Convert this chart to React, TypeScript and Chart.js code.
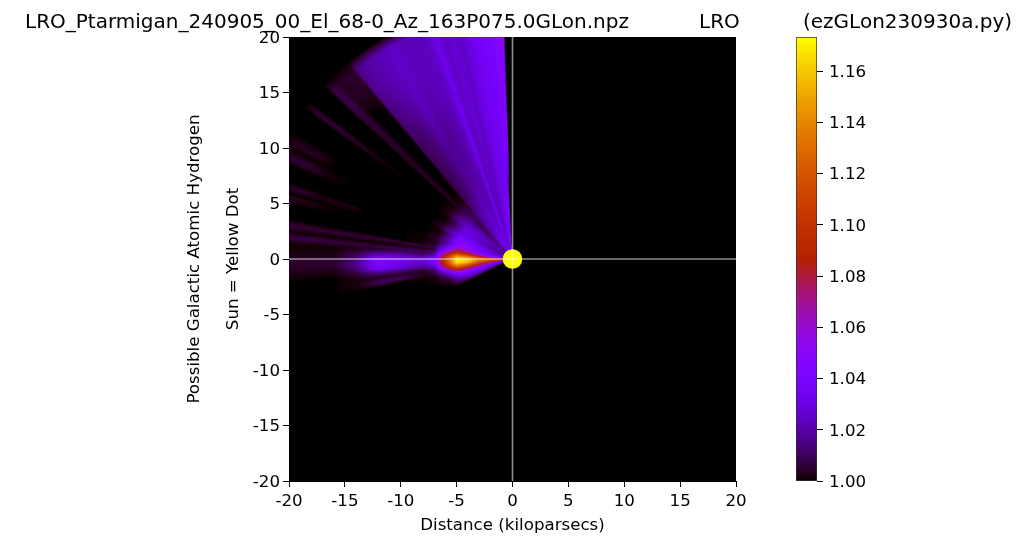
import React, { useEffect, useRef } from "react";
import { Chart, registerables } from "chart.js";

Chart.register(...registerables);

const FONT = "'DejaVu Sans'";
const titleLeft = "LRO_Ptarmigan_240905_00_El_68-0_Az_163P075.0GLon.npz";
const titleMid = "LRO";
const titleRight = "(ezGLon230930a.py)";
const xAxisTitle = "Distance (kiloparsecs)";
const yAxisTitle = ["Possible Galactic Atomic Hydrogen", "", "Sun = Yellow Dot"];
const axisTicks = [-20, -15, -10, -5, 0, 5, 10, 15, 20];
const barTicks = [1.0, 1.02, 1.04, 1.06, 1.08, 1.1, 1.12, 1.14, 1.16];
const barMin = 1.0;
const barMax = 1.1733;

// Radii (kpc) of the heat-map samples along each ray.
const rayRadii = [0, 1, 2, 3, 4, 5, 6, 7, 8, 10, 12, 14, 16, 18, 20, 22, 23];
// Direction of each ray (degrees counter-clockwise from +x).
const rayAngles = [
  91.9, 92.5, 94, 95, 98, 101, 103, 105, 107, 109, 111, 114, 117, 120, 122, 125, 127, 129.3,
  130, 132, 134, 135.5, 136.5, 137.5, 140, 142, 143, 144, 146, 150, 152, 153.5, 155.5, 157,
  159, 161, 162, 163.4, 164.5, 166, 168, 170, 171.5, 173, 174.5, 176, 178, 180, 182, 184, 186,
  188, 190, 192, 194, 196, 198, 200, 202, 204, 206, 207,
];
// Ratio above 1.00 in thousandths, one row per ray, one column per radius.
const rayExcess = [
  [0, 0, 0, 0, 0, 0, 0, 0, 0, 0, 0, 0, 0, 0, 0, 0, 0],
  [0, 0, 0, 0, 0, 0, 0, 6, 20, 38, 41, 42, 43, 45, 50, 48, 0],
  [0, 0, 12, 24, 34, 38, 38, 38, 38, 40, 41, 42, 43, 45, 48, 46, 0],
  [40, 40, 38, 37, 36, 36, 35, 35, 35, 36, 37, 38, 38, 39, 41, 40, 0],
  [38, 38, 36, 35, 34, 34, 33, 33, 33, 34, 34, 35, 35, 36, 37, 36, 0],
  [34, 36, 34, 32, 30, 30, 29, 29, 29, 29, 30, 31, 31, 31, 31, 30, 0],
  [26, 28, 26, 24, 22, 22, 22, 22, 22, 23, 24, 24, 24, 24, 24, 23, 0],
  [30, 32, 30, 28, 26, 26, 26, 26, 26, 26, 27, 27, 27, 27, 27, 26, 0],
  [24, 26, 24, 23, 22, 22, 22, 22, 22, 23, 23, 24, 24, 24, 24, 23, 0],
  [36, 38, 38, 36, 34, 34, 32, 32, 31, 32, 33, 33, 33, 33, 33, 31, 0],
  [26, 28, 27, 26, 24, 23, 22, 22, 22, 23, 23, 24, 24, 24, 24, 23, 0],
  [26, 30, 28, 26, 24, 22, 21, 20, 20, 19, 19, 20, 22, 23, 23, 22, 0],
  [28, 32, 30, 28, 26, 24, 21, 20, 18, 17, 17, 18, 21, 22, 23, 22, 0],
  [30, 34, 32, 29, 26, 24, 21, 18, 17, 17, 18, 21, 23, 24, 26, 24, 0],
  [24, 28, 26, 24, 22, 20, 17, 15, 14, 15, 16, 18, 20, 22, 23, 22, 0],
  [28, 30, 28, 25, 22, 20, 16, 13, 12, 11, 12, 13, 17, 19, 21, 20, 0],
  [22, 26, 24, 22, 19, 17, 13, 10, 9, 10, 11, 12, 15, 17, 19, 18, 0],
  [22, 28, 25, 21, 18, 15, 11, 9, 8, 8, 9, 11, 13, 15, 16, 15, 0],
  [14, 20, 16, 12, 9, 8, 5, 2, 1, 0, 0, 0, 0, 1, 3, 5, 0],
  [18, 26, 22, 16, 13, 12, 6, 1, 0, 0, 0, 0, 0, 0, 4, 5, 0],
  [6, 14, 8, 5, 4, 9, 9, 1, 0, 0, 0, 0, 0, 0, 3, 4, 0],
  [20, 26, 22, 17, 14, 14, 8, 3, 3, 3, 3, 4, 4, 5, 7, 6, 0],
  [6, 16, 12, 8, 10, 14, 9, 3, 3, 4, 4, 4, 5, 6, 9, 8, 0],
  [6, 14, 13, 15, 17, 16, 9, 1, 0, 0, 0, 0, 0, 0, 0, 0, 0],
  [18, 28, 26, 24, 22, 19, 12, 2, 0, 0, 0, 0, 0, 0, 0, 0, 0],
  [4, 10, 12, 17, 22, 23, 14, 2, 0, 0, 0, 0, 0, 0, 0, 0, 0],
  [14, 26, 24, 26, 26, 24, 16, 3, 0, 0, 0, 1, 3, 5, 7, 6, 0],
  [5, 12, 14, 20, 26, 26, 16, 3, 0, 0, 0, 0, 0, 0, 0, 0, 0],
  [18, 28, 26, 26, 28, 28, 12, 1, 0, 0, 0, 0, 0, 0, 0, 0, 0],
  [5, 12, 15, 22, 28, 28, 10, 0, 0, 0, 0, 0, 0, 0, 0, 0, 0],
  [16, 26, 24, 24, 28, 30, 12, 1, 0, 0, 0, 0, 0, 0, 4, 4, 0],
  [5, 12, 15, 22, 30, 30, 14, 2, 0, 0, 0, 0, 0, 0, 0, 0, 0],
  [18, 26, 26, 26, 32, 36, 22, 5, 0, 0, 0, 0, 0, 1, 6, 6, 0],
  [7, 14, 18, 26, 34, 38, 18, 2, 0, 0, 0, 0, 0, 0, 0, 0, 0],
  [18, 28, 30, 32, 40, 42, 16, 1, 0, 0, 0, 0, 0, 0, 0, 0, 0],
  [7, 16, 22, 32, 42, 46, 16, 2, 0, 0, 0, 0, 0, 0, 0, 0, 0],
  [18, 28, 30, 36, 44, 48, 18, 3, 0, 0, 0, 0, 3, 2, 6, 1, 0],
  [8, 18, 26, 36, 46, 48, 20, 4, 0, 0, 0, 0, 0, 0, 0, 0, 0],
  [8, 18, 26, 36, 46, 48, 20, 6, 1, 0, 0, 0, 0, 1, 4, 3, 0],
  [18, 30, 34, 40, 50, 52, 20, 4, 0, 0, 0, 0, 0, 0, 0, 0, 0],
  [7, 20, 28, 40, 52, 58, 24, 4, 1, 0, 0, 0, 0, 0, 0, 0, 0],
  [24, 40, 42, 48, 62, 72, 34, 6, 1, 0, 0, 0, 0, 0, 0, 0, 0],
  [24, 40, 46, 54, 72, 84, 42, 10, 7, 6, 6, 6, 6, 6, 7, 7, 0],
  [24, 42, 50, 60, 84, 96, 52, 7, 2, 1, 0, 0, 0, 0, 1, 1, 0],
  [32, 50, 60, 74, 100, 112, 66, 13, 9, 8, 7, 7, 7, 8, 8, 8, 0],
  [46, 65, 78, 94, 122, 135, 80, 16, 8, 10, 5, 2, 1, 1, 1, 1, 0],
  [70, 88, 100, 116, 145, 155, 95, 28, 16, 22, 22, 8, 1, 1, 1, 1, 0],
  [90, 100, 110, 126, 158, 165, 102, 38, 26, 32, 40, 14, 4, 4, 4, 3, 0],
  [100, 105, 114, 130, 162, 170, 105, 40, 28, 34, 43, 16, 5, 5, 5, 4, 0],
  [90, 100, 110, 126, 158, 165, 100, 34, 22, 30, 36, 12, 2, 2, 2, 1, 0],
  [70, 85, 98, 114, 136, 146, 88, 22, 10, 14, 15, 5, 0, 0, 0, 0, 0],
  [48, 70, 84, 98, 118, 126, 70, 12, 4, 4, 3, 1, 0, 0, 0, 0, 0],
  [26, 55, 66, 80, 98, 102, 46, 9, 3, 11, 11, 2, 0, 0, 0, 0, 0],
  [6, 28, 44, 56, 70, 72, 28, 4, 1, 0, 0, 0, 0, 0, 0, 0, 0],
  [16, 36, 44, 50, 54, 52, 18, 2, 0, 0, 0, 0, 0, 0, 0, 0, 0],
  [5, 20, 32, 38, 42, 38, 10, 1, 0, 0, 0, 0, 0, 0, 0, 0, 0],
  [10, 26, 34, 38, 38, 30, 7, 0, 0, 0, 0, 0, 0, 0, 0, 0, 0],
  [3, 14, 24, 30, 30, 20, 3, 0, 0, 0, 0, 0, 0, 0, 0, 0, 0],
  [1, 8, 16, 22, 24, 16, 1, 0, 0, 0, 0, 0, 0, 0, 0, 0, 0],
  [0, 4, 8, 12, 14, 8, 0, 0, 0, 0, 0, 0, 0, 0, 0, 0, 0],
  [0, 0, 1, 2, 3, 1, 0, 0, 0, 0, 0, 0, 0, 0, 0, 0, 0],
  [0, 0, 0, 0, 0, 0, 0, 0, 0, 0, 0, 0, 0, 0, 0, 0, 0],
];

const sunPoint = [{ x: 0, y: 0 }];
const crossH = [{ x: -20, y: 0 }, { x: 20, y: 0 }];
const crossV = [{ x: 0, y: -20 }, { x: 0, y: 20 }];

// The gnuplot colour map used by the original figure.
function gnuplot(t: number): [number, number, number] {
  const c = Math.min(1, Math.max(0, t));
  return [Math.sqrt(c) * 255, c * c * c * 255, Math.max(0, Math.sin(2 * Math.PI * c)) * 255];
}
const ratioToUnit = (v: number) => (v - barMin) / (barMax - barMin);

function bracket(list: number[], v: number): [number, number] {
  if (v <= list[0]) return [0, 0];
  for (let i = 1; i < list.length; i++) {
    if (v <= list[i]) return [i - 1, (v - list[i - 1]) / (list[i] - list[i - 1])];
  }
  return [list.length - 1, 0];
}

const heatPlugin = {
  id: "heat",
  beforeDatasetsDraw(chart: any) {
    const { ctx, chartArea: a, scales } = chart;
    const nodes = chart.data.datasets[0].data;
    const nr = rayRadii.length;
    const at = (ai: number, ri: number) => nodes[ai * nr + ri].v;
    const w = Math.round(a.right - a.left);
    const h = Math.round(a.bottom - a.top);
    const off = document.createElement("canvas");
    off.width = w;
    off.height = h;
    const oc = off.getContext("2d")!;
    const img = oc.createImageData(w, h);
    for (let py = 0; py < h; py++) {
      const y = scales.y.getValueForPixel(a.top + py + 0.5);
      for (let px = 0; px < w; px++) {
        const x = scales.x.getValueForPixel(a.left + px + 0.5);
        let ang = (Math.atan2(y, x) * 180) / Math.PI;
        if (ang < 0) ang += 360;
        const r = Math.hypot(x, y);
        let v = barMin;
        if (ang >= rayAngles[0] && ang <= rayAngles[rayAngles.length - 1] && r < 23) {
          const [ai, af] = bracket(rayAngles, ang);
          const [ri, rf] = bracket(rayRadii, r);
          const a1 = Math.min(ai + 1, rayAngles.length - 1);
          const r1 = Math.min(ri + 1, nr - 1);
          const top = at(ai, ri) * (1 - rf) + at(ai, r1) * rf;
          const bot = at(a1, ri) * (1 - rf) + at(a1, r1) * rf;
          v = top * (1 - af) + bot * af;
        }
        const [cr, cg, cb] = gnuplot(ratioToUnit(v));
        const k = (py * w + px) * 4;
        img.data[k] = cr;
        img.data[k + 1] = cg;
        img.data[k + 2] = cb;
        img.data[k + 3] = 255;
      }
    }
    oc.putImageData(img, 0, 0);
    ctx.drawImage(off, a.left, a.top, a.right - a.left, a.bottom - a.top);
  },
};

const titlePlugin = {
  id: "threeTitles",
  afterDraw(chart: any) {
    const { ctx } = chart;
    ctx.save();
    ctx.fillStyle = "#000";
    ctx.font = `20px ${FONT}`;
    ctx.textBaseline = "alphabetic";
    ctx.textAlign = "left";
    ctx.fillText(titleLeft, 25, 28);
    ctx.fillText(titleMid, 699, 28);
    ctx.fillText(titleRight, 803, 28);
    ctx.restore();
  },
};

const tickFont = { family: FONT, size: 16.67 };

export default function App() {
  const mainRef = useRef<HTMLCanvasElement>(null);
  const barRef = useRef<HTMLCanvasElement>(null);

  useEffect(() => {
    document.body.style.margin = "0";
    document.body.style.background = "#fff";

    const heatNodes: any[] = [];
    rayAngles.forEach((deg, ai) => {
      rayRadii.forEach((r, ri) => {
        const t = (deg * Math.PI) / 180;
        heatNodes.push({ x: r * Math.cos(t), y: r * Math.sin(t), v: 1 + rayExcess[ai][ri] / 1000 });
      });
    });

    const main = new Chart(mainRef.current!, {
      type: "scatter",
      data: {
        datasets: [
          { label: "Hydrogen", data: heatNodes, pointRadius: 0, pointHoverRadius: 0, order: 3 },
          { label: "Sun", data: sunPoint, pointRadius: 9.8, backgroundColor: "#ffff00", borderWidth: 0, order: 2 },
          { label: "x=0", data: crossV, showLine: true, pointRadius: 0, borderColor: "rgba(255,255,255,0.55)", borderWidth: 1.6, order: 1 },
          { label: "y=0", data: crossH, showLine: true, pointRadius: 0, borderColor: "rgba(255,255,255,0.55)", borderWidth: 1.6, order: 1 },
        ],
      } as any,
      options: {
        animation: false,
        responsive: false,
        events: [],
        layout: { padding: { left: 185, right: 288, top: 37, bottom: 9 } },
        plugins: { legend: { display: false }, tooltip: { enabled: false }, title: { display: false } },
        scales: {
          x: {
            type: "linear",
            min: -20,
            max: 20,
            afterFit: (s: any) => { s.height = 55; },
            afterBuildTicks: (s: any) => { s.ticks = axisTicks.map((value) => ({ value })); },
            grid: { drawOnChartArea: false, color: "#000", tickLength: 6, tickWidth: 1 },
            border: { color: "#000", width: 1 },
            ticks: { color: "#000", font: tickFont, maxRotation: 0, padding: 5, autoSkip: false },
            title: { display: true, text: xAxisTitle, color: "#000", font: tickFont, padding: { top: 2, bottom: 0 } },
          },
          y: {
            type: "linear",
            min: -20,
            max: 20,
            afterFit: (s: any) => { s.width = 104; },
            afterBuildTicks: (s: any) => { s.ticks = axisTicks.map((value) => ({ value })); },
            grid: { drawOnChartArea: false, color: "#000", tickLength: 6, tickWidth: 1 },
            border: { color: "#000", width: 1 },
            ticks: { color: "#000", font: tickFont, padding: 3, autoSkip: false, labelOffset: 1.5 },
            title: { display: true, text: yAxisTitle, color: "#000", font: { ...tickFont, lineHeight: 1.17 }, padding: 0 },
          },
        },
      } as any,
      plugins: [heatPlugin, titlePlugin],
    });

    const bar = new Chart(barRef.current!, {
      type: "bar",
      data: {
        labels: ["ratio"],
        datasets: [
          {
            data: [[barMin, barMax]],
            barPercentage: 1,
            categoryPercentage: 1,
            borderColor: "#333",
            borderWidth: 1,
            borderSkipped: false,
            backgroundColor: (c: any) => {
              const { chart } = c;
              if (!chart.chartArea) return "#000";
              const ys = chart.scales.y;
              const g = chart.ctx.createLinearGradient(0, ys.getPixelForValue(barMin), 0, ys.getPixelForValue(barMax));
              for (let i = 0; i <= 128; i++) {
                const [r, gg, b] = gnuplot(i / 128);
                g.addColorStop(i / 128, `rgb(${r.toFixed(0)},${gg.toFixed(0)},${b.toFixed(0)})`);
              }
              return g;
            },
          },
        ],
      } as any,
      options: {
        animation: false,
        responsive: false,
        events: [],
        layout: { padding: { left: 16, right: 0, top: 37, bottom: 64 } },
        plugins: { legend: { display: false }, tooltip: { enabled: false } },
        scales: {
          x: { display: false },
          y: {
            position: "right",
            min: barMin,
            max: barMax,
            afterFit: (s: any) => { s.width = 63; },
            afterBuildTicks: (s: any) => { s.ticks = barTicks.map((value) => ({ value })); },
            grid: { drawOnChartArea: false, color: "#000", tickLength: 6, tickWidth: 1 },
            border: { display: false },
            ticks: { color: "#000", font: tickFont, padding: 6, autoSkip: false, labelOffset: 1.5, callback: (v: any) => Number(v).toFixed(2) },
          },
        },
      } as any,
    });

    return () => {
      main.destroy();
      bar.destroy();
    };
  }, []);

  return (
    <div style={{ position: "relative", width: 1024, height: 545, background: "#fff", overflow: "hidden" }}>
      <canvas ref={mainRef} width={1024} height={545} style={{ position: "absolute", left: 0, top: 0 }} />
      <canvas ref={barRef} width={100} height={545} style={{ position: "absolute", left: 780, top: 0 }} />
    </div>
  );
}
